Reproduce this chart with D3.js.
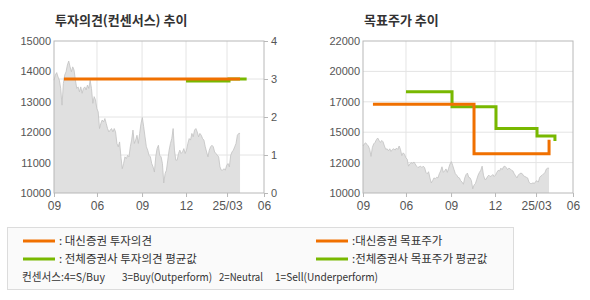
<!DOCTYPE html>
<html>
<head>
<meta charset="utf-8">
<script src="https://cdn.jsdelivr.net/npm/d3@7"></script>
<style>
  body { margin: 0; background: #fff; }
  text { font-family: "Liberation Sans", Arial, sans-serif; }
  .kr { font-family: "Noto Sans CJK KR", sans-serif; }
</style>
</head>
<body>
<svg id="chart" width="590" height="300"></svg>
<script>
// x axis is in "month" units, 0 = first label, 15 = last label
var xTickPos = [0, 3.07, 6.29, 9.43, 12.36, 15];
var xTickLabels = ["09", "06", "09", "12", "25/03", "06"];

// daily close (spans 0 .. priceEnd on the x axis)
var priceEnd = 13.29;
var prices = [
  13710, 13880, 13960, 13820, 13710, 13440, 12890, 13600, 13880, 13990,
  14210, 14340, 14150, 13990, 14150, 14040, 13710, 13440, 13490, 13330,
  13490, 13280, 13440, 13490, 13390, 13550, 13440, 13710, 13440, 12950,
  13170, 13060, 12780, 12670, 12120, 12290, 12400, 12340, 12450, 12290,
  12120, 12010, 12070, 12120, 12010, 12120, 12010, 11630, 11520, 11680,
  11190, 10800, 10970, 11190, 11130, 11240, 11190, 11520, 11740, 12070,
  11630, 11740, 11900, 11630, 11960, 12290, 12480, 12180, 11850, 11520,
  11410, 11240, 11190, 10970, 10860, 10690, 11190, 11460, 11570, 11240,
  11190, 10970, 10330, 10640, 10750, 11080, 11410, 11630, 11790, 12120,
  11410, 11080, 11080, 11300, 11410, 11300, 11350, 11460, 11300, 11410,
  11630, 11790, 11740, 11960, 11850, 12070, 12120, 12010, 11850, 11960,
  11900, 11790, 11740, 11520, 11350, 11190, 11410, 11520, 11570, 11520,
  11350, 11300, 11240, 11190, 10860, 10750, 10750, 10800, 10750, 10910,
  10970, 10860, 11240, 11350, 11410, 11520, 11630, 11900, 11960, 11960
];

// investment opinion (consensus scale 0..4)
var opinionDaishin = [[0.71, 3.0], [13.29, 3.0]];
var opinionAvg = [[9.43, 2.95], [12.5, 3.0], [13.76, 3.0]];

// target price
var targetDaishin = [[0.71, 17000], [7.93, 13100], [13.29, 14200]];
var targetAvg = [[3.07, 18000], [6.36, 16800], [9.5, 15100], [12.43, 14500], [13.71, 14100]];

var leftTicks = [10000, 11000, 12000, 13000, 14000, 15000];
var opinionTicks = [0, 1, 2, 3, 4];
var targetTicks = [10000, 12400, 14800, 17200, 19600, 22000];
var targetTickLabels = ["10000", "12000", "15000", "17000", "20000", "22000"];

var consensusNote = ["컨센서스:4=S/Buy", "3=Buy(Outperform)", "2=Neutral", "1=Sell(Underperform)"];

var orange = "#f07000", green = "#78b800";

var svg = d3.select("#chart");

var priceData = prices.map(function(v, i) {
  return { t: i * priceEnd / (prices.length - 1), v: v };
});

function drawPanel(left, opts) {
  var w = 210, h = 152, top = 41;
  var g = svg.append("g").attr("transform", "translate(" + left + "," + top + ")");
  var x = d3.scaleLinear().domain([0, 15]).range([0, w]);
  var yP = d3.scaleLinear().domain(opts.priceDomain).range([h, 0]);
  var yL = opts.lineScale.range([h, 0]);

  // gridlines
  g.selectAll(".vgrid").data(xTickPos.slice(1, -1)).enter().append("line")
    .attr("x1", function(d) { return x(d); }).attr("x2", function(d) { return x(d); })
    .attr("y1", 0).attr("y2", h)
    .attr("stroke", "#e4e4e4");
  g.selectAll(".hgrid").data(opts.gridTicks).enter().append("line")
    .attr("x1", 0).attr("x2", w)
    .attr("y1", function(d) { return opts.gridScale(d); }).attr("y2", function(d) { return opts.gridScale(d); })
    .attr("stroke", "#e4e4e4");

  // price area
  var area = d3.area()
    .x(function(d) { return x(d.t); })
    .y0(h)
    .y1(function(d) { return yP(d.v); });
  g.append("path").datum(priceData)
    .attr("d", area)
    .attr("fill", "#e0e0e0");
  g.append("path").datum(priceData)
    .attr("d", d3.line().x(function(d) { return x(d.t); }).y(function(d) { return yP(d.v); }))
    .attr("fill", "none")
    .attr("stroke", "#c2c2c2")
    .attr("stroke-width", 0.8);

  var step = d3.line()
    .x(function(d) { return x(d[0]); })
    .y(function(d) { return yL(d[1]); })
    .curve(d3.curveStepAfter);
  g.append("path").datum(opts.avg).attr("d", step)
    .attr("fill", "none").attr("stroke", green).attr("stroke-width", 3);
  g.append("path").datum(opts.daishin).attr("d", step)
    .attr("fill", "none").attr("stroke", orange).attr("stroke-width", 3);

  // frame
  g.append("rect").attr("x", 0).attr("y", 0).attr("width", w).attr("height", h)
    .attr("fill", "none").attr("stroke", "#b8b8b8");

  // x axis
  var xAxis = g.append("g").attr("transform", "translate(0," + h + ")")
    .call(d3.axisBottom(x).tickValues(xTickPos).tickSize(4)
      .tickFormat(function(d, i) { return xTickLabels[i]; }));
  xAxis.select(".domain").remove();
  xAxis.selectAll("line").attr("stroke", "#b8b8b8");
  xAxis.selectAll("text").attr("fill", "#555").style("font-size", "12px").attr("dy", "0.85em");

  // left axis
  var yAxis = g.append("g")
    .call(d3.axisLeft(yP).tickValues(opts.leftTicks).tickSize(0).tickPadding(3)
      .tickFormat(function(d, i) { return opts.leftLabels[i]; }));
  yAxis.select(".domain").remove();
  yAxis.selectAll("text").attr("fill", "#555").style("font-size", "11px");

  if (opts.rightAxis) {
    var rAxis = g.append("g").attr("transform", "translate(" + w + ",0)")
      .call(d3.axisRight(yL).tickValues(opinionTicks).tickSize(4).tickPadding(3)
        .tickFormat(d3.format("d")));
    rAxis.select(".domain").remove();
    rAxis.selectAll("line").attr("stroke", "#b8b8b8");
    rAxis.selectAll("text").attr("fill", "#555").style("font-size", "11px");
  }

  svg.append("text").attr("class", "kr")
    .attr("x", left + 1).attr("y", 25)
    .attr("font-size", "13px").attr("font-weight", "bold").attr("fill", "#333")
    .text(opts.title);
}

var opinionScale = d3.scaleLinear().domain([0, 4]);
drawPanel(54, {
  title: "투자의견(컨센서스) 추이",
  priceDomain: [10000, 15000],
  lineScale: opinionScale,
  gridScale: opinionScale.copy().range([152, 0]),
  gridTicks: [1, 2, 3],
  leftTicks: leftTicks,
  leftLabels: leftTicks.map(String),
  daishin: opinionDaishin,
  avg: opinionAvg,
  rightAxis: true
});

var targetScale = d3.scaleLinear().domain([10000, 22000]);
drawPanel(363, {
  title: "목표주가 추이",
  priceDomain: [10000, 22000],
  lineScale: targetScale,
  gridScale: targetScale.copy().range([152, 0]),
  gridTicks: targetTicks.slice(1, -1),
  leftTicks: targetTicks,
  leftLabels: targetTickLabels,
  daishin: targetDaishin,
  avg: targetAvg,
  rightAxis: false
});

// legend box
var leg = svg.append("g");
leg.append("rect").attr("x", 7.5).attr("y", 227.5).attr("width", 506).attr("height", 62)
  .attr("fill", "#fafafa").attr("stroke", "#dcdcdc");

var legendItems = [
  { x: 23, y: 241, color: orange, label: ": 대신증권 투자의견" },
  { x: 23, y: 259, color: green, label: ": 전체증권사 투자의견 평균값" },
  { x: 316, y: 241, color: orange, label: ":대신증권 목표주가" },
  { x: 316, y: 259, color: green, label: ":전체증권사 목표주가 평균값" }
];
legendItems.forEach(function(d) {
  leg.append("line").attr("x1", d.x).attr("x2", d.x + 32).attr("y1", d.y).attr("y2", d.y)
    .attr("stroke", d.color).attr("stroke-width", 3);
  leg.append("text").attr("class", "kr").attr("x", d.x + 36).attr("y", d.y + 4)
    .attr("font-size", "11.5px").attr("fill", "#333").text(d.label);
});
var noteX = [22, 122, 219, 275];
var noteW = [83, 90, 44, 103];
noteX.forEach(function(nx, i) {
  leg.append("text").attr("class", "kr").attr("x", nx).attr("y", 281)
    .attr("font-size", "11px").attr("fill", "#333")
    .attr("textLength", noteW[i]).attr("lengthAdjust", "spacingAndGlyphs")
    .text(consensusNote[i]);
});
</script>
</body>
</html>
